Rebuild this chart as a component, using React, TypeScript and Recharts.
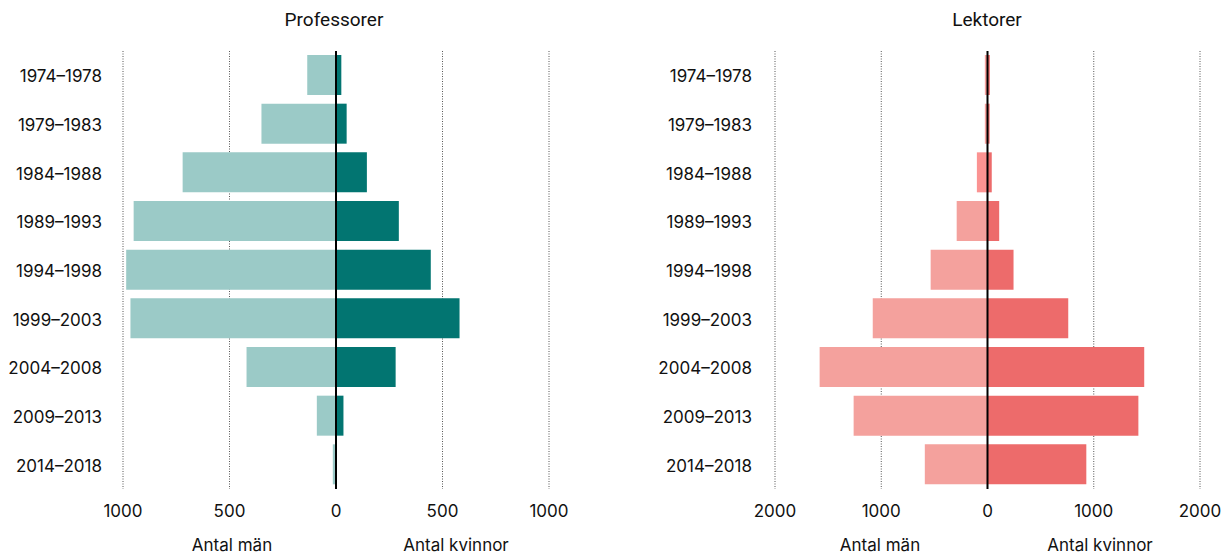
import React from 'react';
import { BarChart, Bar, XAxis, YAxis, CartesianGrid, ReferenceLine, Cell } from 'recharts';

const categories = ['1974–1978', '1979–1983', '1984–1988', '1989–1993', '1994–1998', '1999–2003', '2004–2008', '2009–2013', '2014–2018'];
const profMen = [135, 350, 720, 950, 985, 965, 420, 90, 15];
const profWomen = [25, 50, 145, 295, 445, 580, 280, 35, 4];
const lektMen = [25, 25, 100, 290, 535, 1080, 1580, 1260, 590];
const lektWomen = [22, 20, 40, 110, 245, 760, 1475, 1420, 930];
const profTicks = [-1000, -500, 0, 500, 1000];
const lektTicks = [-2000, -1000, 0, 1000, 2000];

const FONT = 'Inter, sans-serif';
const TITLE_FONT = 'Roboto, sans-serif';
const TEXT = '#111';

const build = (men: number[], women: number[]) =>
  categories.map((c, i) => ({ cat: c, men: -men[i], women: women[i] }));

const profData = build(profMen, profWomen);
const lektData = build(lektMen, lektWomen);

type PanelProps = {
  data: { cat: string; men: number; women: number }[];
  ticks: number[];
  yWidth: number;
  rightMargin: number;
  tickMargin: number;
  menColor: string;
  womenColor: string;
  menCellColors?: (string | null)[];
};

function Panel({ data, ticks, yWidth, rightMargin, tickMargin, menColor, womenColor, menCellColors }: PanelProps) {
  return (
    <BarChart
      width={615}
      height={556}
      data={data}
      layout="vertical"
      stackOffset="sign"
      margin={{ top: 51, right: rightMargin, bottom: 0, left: 0 }}
      barSize={40}
    >
      <CartesianGrid horizontal={false} vertical={true} stroke="#555" strokeDasharray="1 1.5" verticalValues={ticks.filter((t) => t !== 0)} />
      <XAxis
        type="number"
        domain={[ticks[0], ticks[ticks.length - 1]]}
        ticks={ticks}
        tickFormatter={(v: number) => String(Math.abs(v))}
        axisLine={false}
        tickLine={false}
        tickMargin={10}
        tick={{ fill: TEXT, fontSize: 17, fontFamily: FONT }}
        height={67}
        allowDataOverflow
      />
      <YAxis
        type="category"
        dataKey="cat"
        width={yWidth}
        axisLine={false}
        tickLine={false}
        tickMargin={tickMargin}
        interval={0}
        tick={{ fill: TEXT, fontSize: 17, fontFamily: FONT, dy: 1 }}
      />
      <Bar dataKey="men" stackId="a" fill={menColor} isAnimationActive={false}>
        {data.map((d, i) => (
          <Cell key={d.cat} fill={(menCellColors && menCellColors[i]) || menColor} />
        ))}
      </Bar>
      <Bar dataKey="women" stackId="a" fill={womenColor} isAnimationActive={false} />
      <ReferenceLine x={0} stroke="#000" strokeWidth={2} />
    </BarChart>
  );
}

const textStyle: React.CSSProperties = {
  position: 'absolute',
  transform: 'translateX(-50%)',
  fontFamily: FONT,
  color: TEXT,
  whiteSpace: 'nowrap',
  lineHeight: 1,
};

export default function App() {
  return (
    <div style={{ position: 'absolute', left: 0, top: 0, width: 1230, height: 556, background: '#fff', overflow: 'hidden' }}>
      <div style={{ position: 'absolute', left: 0, top: 0 }}>
        <Panel data={profData} ticks={profTicks} yWidth={123} rightMargin={66} tickMargin={15} menColor="#9bcac7" womenColor="#027571" />
      </div>
      <div style={{ position: 'absolute', left: 615, top: 0 }}>
        <Panel
          data={lektData}
          ticks={lektTicks}
          yWidth={160}
          rightMargin={30}
          tickMargin={17}
          menColor="#f4a19d"
          womenColor="#ed6b6b"
          menCellColors={[null, null, '#fb9392', null, null, null, null, null, null]}
        />
      </div>
      <div style={{ ...textStyle, fontFamily: TITLE_FONT, left: 334, top: 10, fontSize: 19 }}>Professorer</div>
      <div style={{ ...textStyle, fontFamily: TITLE_FONT, left: 987, top: 10, fontSize: 19 }}>Lektorer</div>
      <div style={{ ...textStyle, left: 232, top: 537, fontSize: 17 }}>Antal män</div>
      <div style={{ ...textStyle, left: 456, top: 537, fontSize: 17 }}>Antal kvinnor</div>
      <div style={{ ...textStyle, left: 880, top: 537, fontSize: 17 }}>Antal män</div>
      <div style={{ ...textStyle, left: 1100, top: 537, fontSize: 17 }}>Antal kvinnor</div>
    </div>
  );
}
